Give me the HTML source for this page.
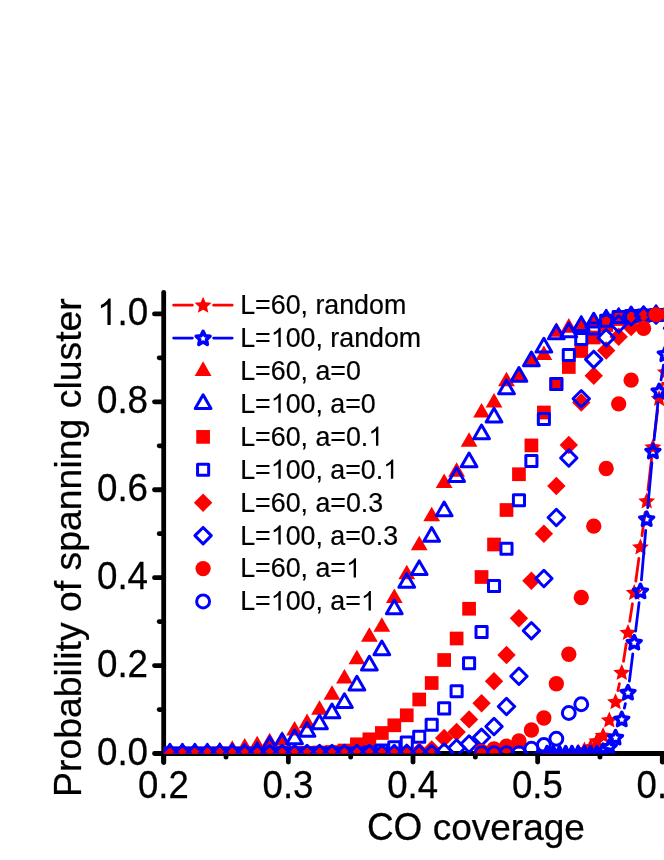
<!DOCTYPE html>
<html><head><meta charset="utf-8"><title>Chart</title>
<style>html,body{margin:0;padding:0;background:#fff}svg{display:block;will-change:transform;font-family:"Liberation Sans",sans-serif}</style>
</head><body>
<svg width="664" height="860" viewBox="0 0 664 860">
<defs>
<path id="tf" d="M0 -9.7 L8.4 4.85 L-8.4 4.85Z" fill="#ff0000"/>
<path id="to" d="M0 -9.1 L7.88 4.55 L-7.88 4.55Z" fill="none" stroke="#0000ff" stroke-width="3.0" stroke-linejoin="round"/>
<rect id="sf" x="-6.85" y="-6.85" width="13.7" height="13.7" fill="#ff0000"/>
<rect id="so" x="-5.55" y="-5.55" width="11.1" height="11.1" fill="none" stroke="#0000ff" stroke-width="3.0" stroke-linejoin="round"/>
<path id="df" d="M0 -9.2 L9.2 0 L0 9.2 L-9.2 0Z" fill="#ff0000"/>
<path id="do" d="M0 -8.2 L8.2 0 L0 8.2 L-8.2 0Z" fill="none" stroke="#0000ff" stroke-width="3.0" stroke-linejoin="round"/>
<circle id="cf" r="7.65" fill="#ff0000"/>
<circle id="co" r="6.45" fill="none" stroke="#0000ff" stroke-width="3.0"/>
<path id="rf" d="M0 -8.5 L2.44 -2.96 L8.46 -2.35 L3.95 1.68 L5.23 7.6 L0 4.55 L-5.23 7.6 L-3.95 1.68 L-8.46 -2.35 L-2.44 -2.96Z" fill="#ff0000"/>
<path id="ro" d="M0 -6.9 L2.06 -2.43 L6.94 -1.86 L3.33 1.48 L4.29 6.31 L0 3.9 L-4.29 6.31 L-3.33 1.48 L-6.94 -1.86 L-2.06 -2.43Z" fill="none" stroke="#0000ff" stroke-width="3.5" stroke-linejoin="round"/>
<clipPath id="cp"><rect x="163.7" y="0" width="600" height="753.5"/></clipPath></defs>
<rect width="664" height="860" fill="#fff"/>
<g stroke="#000" stroke-width="4.8" stroke-linecap="round" fill="none"><path d="M163.7 292.3V762.5" /><path d="M163.7 753.5H680" /><path d="M163.7 753.5H154.5"/><path d="M163.7 709.54H159.2"/><path d="M163.7 665.58H154.5"/><path d="M163.7 621.62H159.2"/><path d="M163.7 577.66H154.5"/><path d="M163.7 533.7H159.2"/><path d="M163.7 489.74H154.5"/><path d="M163.7 445.78H159.2"/><path d="M163.7 401.82H154.5"/><path d="M163.7 357.86H159.2"/><path d="M163.7 313.9H154.5"/><path d="M163.7 753.5V762"/><path d="M226.03 753.5V757.2"/><path d="M288.35 753.5V762"/><path d="M350.68 753.5V757.2"/><path d="M413 753.5V762"/><path d="M475.33 753.5V757.2"/><path d="M537.65 753.5V762"/><path d="M599.98 753.5V757.2"/><path d="M662.3 753.5V762"/><path d="M724.63 753.5V757.2"/></g>
<g font-size="36.8" style="font-kerning:none" stroke="#000" stroke-width="0.25"><text x="96.94" y="0" transform="translate(0 764.5) scale(1 1.045)">0.0</text></g><g font-size="36.8" style="font-kerning:none" stroke="#000" stroke-width="0.25"><text x="96.94" y="0" transform="translate(0 676.58) scale(1 1.045)">0.2</text></g><g font-size="36.8" style="font-kerning:none" stroke="#000" stroke-width="0.25"><text x="96.94" y="0" transform="translate(0 588.66) scale(1 1.045)">0.4</text></g><g font-size="36.8" style="font-kerning:none" stroke="#000" stroke-width="0.25"><text x="96.94" y="0" transform="translate(0 500.74) scale(1 1.045)">0.6</text></g><g font-size="36.8" style="font-kerning:none" stroke="#000" stroke-width="0.25"><text x="96.94" y="0" transform="translate(0 412.82) scale(1 1.045)">0.8</text></g><g font-size="36.8" style="font-kerning:none" stroke="#000" stroke-width="0.25"><path d="M763 0H583V1147Q518 1085 412.5 1023T223 930V1104Q374 1175 487 1276T647 1472H763Z" transform="translate(96.94 324.9) scale(0.01797 -0.01797)"/><text x="117.41" y="0" transform="translate(0 324.9) scale(1 1.045)">.0</text></g><g font-size="36.6" style="font-kerning:none" stroke="#000" stroke-width="0.25"><text x="137.96" y="0" transform="translate(0 797.9) scale(1 1.045)">0.2</text></g><g font-size="36.6" style="font-kerning:none" stroke="#000" stroke-width="0.25"><text x="262.61" y="0" transform="translate(0 797.9) scale(1 1.045)">0.3</text></g><g font-size="36.6" style="font-kerning:none" stroke="#000" stroke-width="0.25"><text x="387.26" y="0" transform="translate(0 797.9) scale(1 1.045)">0.4</text></g><g font-size="36.6" style="font-kerning:none" stroke="#000" stroke-width="0.25"><text x="511.91" y="0" transform="translate(0 797.9) scale(1 1.045)">0.5</text></g><g font-size="36.6" style="font-kerning:none" stroke="#000" stroke-width="0.25"><text x="636.56" y="0" transform="translate(0 797.9) scale(1 1.045)">0.6</text></g>
<g stroke="#000" stroke-width="0.25" style="font-kerning:none"><text x="366.9" y="0" font-size="37" transform="translate(0 839.8) scale(1 1.04)">CO</text><text x="432.68" y="839.8" font-size="37">coverage</text><g transform="translate(81 797) rotate(-90)" font-size="37.4"><text x="0" y="0" transform="scale(1 1.04)">P</text><text x="24.95" y="0">robability of spanning cluster</text></g></g>
<g clip-path="url(#cp)">
<path d="M617.9 690.6L619.39 683.65M623.51 661.24L626.24 643.76M629.74 621.24L632.47 603.76M635.77 581.21L638.9 558.29M641.98 535.7L645.15 512.3M647.99 489.68L651.6 458.32M654.36 435.69L657.69 409.81M661.75 387.4L662.76 383.1" stroke="#ff0000" stroke-width="2.8" fill="none" stroke-linecap="round"/>
<use href="#rf" x="547" y="753.5"/><use href="#rf" x="553.23" y="753.5"/><use href="#rf" x="559.46" y="753.5"/><use href="#rf" x="565.69" y="753.5"/><use href="#rf" x="571.92" y="753.5"/><use href="#rf" x="578.15" y="752"/><use href="#rf" x="584.38" y="750"/><use href="#rf" x="590.61" y="747"/><use href="#rf" x="596.84" y="741"/><use href="#rf" x="603.07" y="735.5"/><use href="#rf" x="609.3" y="720"/><use href="#rf" x="615.53" y="701.75"/><use href="#rf" x="621.76" y="672.5"/><use href="#rf" x="627.99" y="632.5"/><use href="#rf" x="634.22" y="592.5"/><use href="#rf" x="640.45" y="547"/><use href="#rf" x="646.68" y="501"/><use href="#rf" x="652.91" y="447"/><use href="#rf" x="659.14" y="398.5"/><use href="#rf" x="665.37" y="372"/><use href="#rf" x="671.6" y="350"/>
<path d="M624.35 708.15L625.4 703.6M629.4 681.19L632.81 653.81M635.6 631.18L639.07 602.57M641.43 579.89L645.7 530.36M647.72 507.65L651.87 462.65M654.09 439.96L657.96 402.54M661.02 379.96L663.49 365.24M668.23 342.97L668.74 341.03" stroke="#0000ff" stroke-width="2.8" fill="none" stroke-linecap="round"/>
<use href="#ro" x="547" y="753.5"/><use href="#ro" x="553.23" y="753.5"/><use href="#ro" x="559.46" y="753.5"/><use href="#ro" x="565.69" y="753.5"/><use href="#ro" x="571.92" y="753.5"/><use href="#ro" x="578.15" y="753.5"/><use href="#ro" x="584.38" y="753.5"/><use href="#ro" x="590.61" y="753.5"/><use href="#ro" x="596.84" y="753.5"/><use href="#ro" x="603.07" y="751"/><use href="#ro" x="609.3" y="747"/><use href="#ro" x="615.53" y="737.5"/><use href="#ro" x="621.76" y="719.25"/><use href="#ro" x="627.99" y="692.5"/><use href="#ro" x="634.22" y="642.5"/><use href="#ro" x="640.45" y="591.25"/><use href="#ro" x="646.68" y="519"/><use href="#ro" x="652.91" y="451.3"/><use href="#ro" x="659.14" y="391.2"/><use href="#ro" x="665.37" y="354"/><use href="#ro" x="671.6" y="330"/>
<use href="#tf" x="169.93" y="753.5"/><use href="#tf" x="182.4" y="753.5"/><use href="#tf" x="194.86" y="753.3"/><use href="#tf" x="207.32" y="753"/><use href="#tf" x="219.79" y="751.5"/><use href="#tf" x="232.25" y="750"/><use href="#tf" x="244.72" y="747.6"/><use href="#tf" x="257.19" y="745.4"/><use href="#tf" x="269.65" y="742.4"/><use href="#tf" x="282.12" y="740.65"/><use href="#tf" x="294.58" y="730.7"/><use href="#tf" x="307.05" y="723.3"/><use href="#tf" x="319.51" y="709.9"/><use href="#tf" x="331.98" y="694.9"/><use href="#tf" x="344.44" y="678.65"/><use href="#tf" x="356.9" y="659.4"/><use href="#tf" x="369.37" y="636.9"/><use href="#tf" x="381.84" y="626.9"/><use href="#tf" x="394.3" y="598.15"/><use href="#tf" x="406.76" y="574.4"/><use href="#tf" x="419.23" y="545.4"/><use href="#tf" x="431.69" y="516.4"/><use href="#tf" x="444.16" y="483.15"/><use href="#tf" x="456.62" y="471.9"/><use href="#tf" x="469.09" y="441.9"/><use href="#tf" x="481.56" y="412.65"/><use href="#tf" x="494.02" y="402.65"/><use href="#tf" x="506.49" y="381.4"/><use href="#tf" x="518.95" y="375.9"/><use href="#tf" x="531.41" y="360.4"/><use href="#tf" x="543.88" y="355.15"/><use href="#tf" x="556.35" y="331.9"/><use href="#tf" x="568.81" y="327.8"/><use href="#tf" x="581.27" y="324.4"/><use href="#tf" x="593.74" y="321.5"/><use href="#tf" x="606.2" y="319.3"/><use href="#tf" x="618.67" y="317.8"/><use href="#tf" x="631.13" y="316"/><use href="#tf" x="643.6" y="315.5"/><use href="#tf" x="656.07" y="315"/><use href="#tf" x="668.53" y="314.8"/>
<use href="#to" x="169.93" y="753.5"/><use href="#to" x="182.4" y="753.5"/><use href="#to" x="194.86" y="753.5"/><use href="#to" x="207.32" y="753.5"/><use href="#to" x="219.79" y="753.5"/><use href="#to" x="232.25" y="753.5"/><use href="#to" x="244.72" y="753.5"/><use href="#to" x="257.19" y="752"/><use href="#to" x="269.65" y="746"/><use href="#to" x="282.12" y="742.8"/><use href="#to" x="294.58" y="739.2"/><use href="#to" x="307.05" y="731.7"/><use href="#to" x="319.51" y="724.2"/><use href="#to" x="331.98" y="713.2"/><use href="#to" x="344.44" y="702.9"/><use href="#to" x="356.9" y="685.45"/><use href="#to" x="369.37" y="665.45"/><use href="#to" x="381.84" y="650.2"/><use href="#to" x="394.3" y="609.2"/><use href="#to" x="406.76" y="582.7"/><use href="#to" x="419.23" y="570"/><use href="#to" x="431.69" y="536.7"/><use href="#to" x="444.16" y="511.2"/><use href="#to" x="456.62" y="476.9"/><use href="#to" x="469.09" y="462.2"/><use href="#to" x="481.56" y="434.2"/><use href="#to" x="494.02" y="417.45"/><use href="#to" x="506.49" y="389.2"/><use href="#to" x="518.95" y="376.7"/><use href="#to" x="531.41" y="361.2"/><use href="#to" x="543.88" y="347.45"/><use href="#to" x="556.35" y="334.2"/><use href="#to" x="568.81" y="332.3"/><use href="#to" x="581.27" y="326"/><use href="#to" x="593.74" y="322.4"/><use href="#to" x="606.2" y="319.5"/><use href="#to" x="618.67" y="318"/><use href="#to" x="631.13" y="316.2"/><use href="#to" x="643.6" y="315.8"/><use href="#to" x="656.07" y="315"/><use href="#to" x="668.53" y="314.8"/>
<use href="#sf" x="169.93" y="753.5"/><use href="#sf" x="182.4" y="753.5"/><use href="#sf" x="194.86" y="753.5"/><use href="#sf" x="207.32" y="753.5"/><use href="#sf" x="219.79" y="753.5"/><use href="#sf" x="232.25" y="753.5"/><use href="#sf" x="244.72" y="753.5"/><use href="#sf" x="257.19" y="753.5"/><use href="#sf" x="269.65" y="753.5"/><use href="#sf" x="282.12" y="753.2"/><use href="#sf" x="294.58" y="753"/><use href="#sf" x="307.05" y="752.8"/><use href="#sf" x="319.51" y="752.5"/><use href="#sf" x="331.98" y="752"/><use href="#sf" x="344.44" y="750.5"/><use href="#sf" x="356.9" y="744.3"/><use href="#sf" x="369.37" y="739.3"/><use href="#sf" x="381.84" y="733"/><use href="#sf" x="394.3" y="725.3"/><use href="#sf" x="406.76" y="715.3"/><use href="#sf" x="419.23" y="699.5"/><use href="#sf" x="431.69" y="683"/><use href="#sf" x="444.16" y="660"/><use href="#sf" x="456.62" y="638.5"/><use href="#sf" x="469.09" y="608.75"/><use href="#sf" x="481.56" y="577"/><use href="#sf" x="494.02" y="544.5"/><use href="#sf" x="506.49" y="510"/><use href="#sf" x="518.95" y="474.25"/><use href="#sf" x="531.41" y="445.4"/><use href="#sf" x="543.88" y="412.5"/><use href="#sf" x="556.35" y="384"/><use href="#sf" x="568.81" y="367"/><use href="#sf" x="581.27" y="351"/><use href="#sf" x="593.74" y="337.5"/><use href="#sf" x="606.2" y="325"/><use href="#sf" x="618.67" y="319"/><use href="#sf" x="631.13" y="316.8"/><use href="#sf" x="643.6" y="315.8"/><use href="#sf" x="656.07" y="315.2"/><use href="#sf" x="668.53" y="314.8"/>
<use href="#so" x="169.93" y="753.5"/><use href="#so" x="182.4" y="753.5"/><use href="#so" x="194.86" y="753.5"/><use href="#so" x="207.32" y="753.5"/><use href="#so" x="219.79" y="753.5"/><use href="#so" x="232.25" y="753.5"/><use href="#so" x="244.72" y="753.5"/><use href="#so" x="257.19" y="753.5"/><use href="#so" x="269.65" y="753.5"/><use href="#so" x="282.12" y="753.5"/><use href="#so" x="294.58" y="753.5"/><use href="#so" x="307.05" y="753.5"/><use href="#so" x="319.51" y="753.5"/><use href="#so" x="331.98" y="753.5"/><use href="#so" x="344.44" y="753.5"/><use href="#so" x="356.9" y="753.5"/><use href="#so" x="369.37" y="752.5"/><use href="#so" x="381.84" y="750.5"/><use href="#so" x="394.3" y="747.3"/><use href="#so" x="406.76" y="742.6"/><use href="#so" x="419.23" y="736.7"/><use href="#so" x="431.69" y="724.7"/><use href="#so" x="444.16" y="708.4"/><use href="#so" x="456.62" y="691.25"/><use href="#so" x="469.09" y="663.25"/><use href="#so" x="481.56" y="632"/><use href="#so" x="494.02" y="586"/><use href="#so" x="506.49" y="548.75"/><use href="#so" x="518.95" y="500.25"/><use href="#so" x="531.41" y="461"/><use href="#so" x="543.88" y="419"/><use href="#so" x="556.35" y="384"/><use href="#so" x="568.81" y="355"/><use href="#so" x="581.27" y="339"/><use href="#so" x="593.74" y="328.5"/><use href="#so" x="606.2" y="320.8"/><use href="#so" x="618.67" y="317"/><use href="#so" x="631.13" y="316"/><use href="#so" x="643.6" y="315.5"/><use href="#so" x="656.07" y="315"/><use href="#so" x="668.53" y="314.8"/>
<use href="#df" x="169.93" y="753.5"/><use href="#df" x="182.4" y="753.5"/><use href="#df" x="194.86" y="753.5"/><use href="#df" x="207.32" y="753.5"/><use href="#df" x="219.79" y="753.5"/><use href="#df" x="232.25" y="753.5"/><use href="#df" x="244.72" y="753.5"/><use href="#df" x="257.19" y="753.5"/><use href="#df" x="269.65" y="753.5"/><use href="#df" x="282.12" y="753.5"/><use href="#df" x="294.58" y="753.5"/><use href="#df" x="307.05" y="753.5"/><use href="#df" x="319.51" y="753.5"/><use href="#df" x="331.98" y="753.5"/><use href="#df" x="344.44" y="753.5"/><use href="#df" x="356.9" y="753.5"/><use href="#df" x="369.37" y="753.5"/><use href="#df" x="381.84" y="753.5"/><use href="#df" x="394.3" y="753.5"/><use href="#df" x="406.76" y="752.5"/><use href="#df" x="419.23" y="751.5"/><use href="#df" x="431.69" y="749.5"/><use href="#df" x="444.16" y="738"/><use href="#df" x="456.62" y="732"/><use href="#df" x="469.09" y="719.4"/><use href="#df" x="481.56" y="703.2"/><use href="#df" x="494.02" y="681.25"/><use href="#df" x="506.49" y="655"/><use href="#df" x="518.95" y="618.25"/><use href="#df" x="531.41" y="580.75"/><use href="#df" x="543.88" y="533.75"/><use href="#df" x="556.35" y="486"/><use href="#df" x="568.81" y="445"/><use href="#df" x="581.27" y="402.5"/><use href="#df" x="593.74" y="375.75"/><use href="#df" x="606.2" y="350.5"/><use href="#df" x="618.67" y="336.7"/><use href="#df" x="631.13" y="327"/><use href="#df" x="643.6" y="317"/><use href="#df" x="656.07" y="315"/><use href="#df" x="668.53" y="314.5"/>
<use href="#do" x="169.93" y="753.5"/><use href="#do" x="182.4" y="753.5"/><use href="#do" x="194.86" y="753.5"/><use href="#do" x="207.32" y="753.5"/><use href="#do" x="219.79" y="753.5"/><use href="#do" x="232.25" y="753.5"/><use href="#do" x="244.72" y="753.5"/><use href="#do" x="257.19" y="753.5"/><use href="#do" x="269.65" y="753.5"/><use href="#do" x="282.12" y="753.5"/><use href="#do" x="294.58" y="753.5"/><use href="#do" x="307.05" y="753.5"/><use href="#do" x="319.51" y="753.5"/><use href="#do" x="331.98" y="753.5"/><use href="#do" x="344.44" y="753.5"/><use href="#do" x="356.9" y="753.5"/><use href="#do" x="369.37" y="753.5"/><use href="#do" x="381.84" y="753.5"/><use href="#do" x="394.3" y="753.5"/><use href="#do" x="406.76" y="753.5"/><use href="#do" x="419.23" y="753.5"/><use href="#do" x="431.69" y="753.5"/><use href="#do" x="444.16" y="752"/><use href="#do" x="456.62" y="748"/><use href="#do" x="469.09" y="744"/><use href="#do" x="481.56" y="737.3"/><use href="#do" x="494.02" y="726.5"/><use href="#do" x="506.49" y="706.5"/><use href="#do" x="518.95" y="676.25"/><use href="#do" x="531.41" y="630.7"/><use href="#do" x="543.88" y="578.5"/><use href="#do" x="556.35" y="517.5"/><use href="#do" x="568.81" y="458"/><use href="#do" x="581.27" y="398.75"/><use href="#do" x="593.74" y="359.4"/><use href="#do" x="606.2" y="337.7"/><use href="#do" x="618.67" y="324"/><use href="#do" x="631.13" y="316.8"/><use href="#do" x="643.6" y="315.5"/><use href="#do" x="656.07" y="315"/><use href="#do" x="668.53" y="314.8"/>
<use href="#cf" x="481.56" y="751.3"/><use href="#cf" x="494.02" y="749"/><use href="#cf" x="506.49" y="746.2"/><use href="#cf" x="518.95" y="741"/><use href="#cf" x="531.41" y="730"/><use href="#cf" x="543.88" y="718"/><use href="#cf" x="556.35" y="683.75"/><use href="#cf" x="568.81" y="654.25"/><use href="#cf" x="581.27" y="597.5"/><use href="#cf" x="593.74" y="526.2"/><use href="#cf" x="606.2" y="468.5"/><use href="#cf" x="618.67" y="403.8"/><use href="#cf" x="631.13" y="380.2"/><use href="#cf" x="643.6" y="328.4"/><use href="#cf" x="656.07" y="314.7"/><use href="#cf" x="668.53" y="314"/>
<use href="#co" x="481.56" y="753.3"/><use href="#co" x="494.02" y="753.3"/><use href="#co" x="506.49" y="753.3"/><use href="#co" x="518.95" y="753.3"/><use href="#co" x="531.41" y="748.75"/><use href="#co" x="543.88" y="745"/><use href="#co" x="556.35" y="738.75"/><use href="#co" x="568.81" y="713"/><use href="#co" x="581.27" y="704.25"/>
</g>
<path d="M173.6 305.2H192.4M213.6 305.2H232.2" stroke="#ff0000" stroke-width="2.7" stroke-linecap="round" fill="none"/><use href="#rf" x="203.1" y="305.2"/><g font-size="26.8" style="font-kerning:none" stroke="#000" stroke-width="0.2"><text x="240.2" y="0" transform="translate(0 314.1) scale(1 1.03)">L=60, random</text></g><path d="M173.6 338.12H192.4M213.6 338.12H232.2" stroke="#0000ff" stroke-width="2.7" stroke-linecap="round" fill="none"/><use href="#ro" x="203.1" y="338.12"/><g font-size="26.8" style="font-kerning:none" stroke="#000" stroke-width="0.2"><text x="240.2" y="0" transform="translate(0 347.02) scale(1 1.03)">L=</text><path d="M763 0H583V1147Q518 1085 412.5 1023T223 930V1104Q374 1175 487 1276T647 1472H763Z" transform="translate(270.76 347.02) scale(0.01309 -0.01309)"/><text x="285.66" y="0" transform="translate(0 347.02) scale(1 1.03)">00, random</text></g><use href="#tf" x="203.1" y="371.04"/><g font-size="26.8" style="font-kerning:none" stroke="#000" stroke-width="0.2"><text x="240.2" y="0" transform="translate(0 379.94) scale(1 1.03)">L=60, a=0</text></g><use href="#to" x="203.1" y="403.96"/><g font-size="26.8" style="font-kerning:none" stroke="#000" stroke-width="0.2"><text x="240.2" y="0" transform="translate(0 412.86) scale(1 1.03)">L=</text><path d="M763 0H583V1147Q518 1085 412.5 1023T223 930V1104Q374 1175 487 1276T647 1472H763Z" transform="translate(270.76 412.86) scale(0.01309 -0.01309)"/><text x="285.66" y="0" transform="translate(0 412.86) scale(1 1.03)">00, a=0</text></g><use href="#sf" x="203.1" y="436.88"/><g font-size="26.8" style="font-kerning:none" stroke="#000" stroke-width="0.2"><text x="240.2" y="0" transform="translate(0 445.78) scale(1 1.03)">L=60, a=0.</text><path d="M763 0H583V1147Q518 1085 412.5 1023T223 930V1104Q374 1175 487 1276T647 1472H763Z" transform="translate(368.36 445.78) scale(0.01309 -0.01309)"/></g><use href="#so" x="203.1" y="469.8"/><g font-size="26.8" style="font-kerning:none" stroke="#000" stroke-width="0.2"><text x="240.2" y="0" transform="translate(0 478.7) scale(1 1.03)">L=</text><path d="M763 0H583V1147Q518 1085 412.5 1023T223 930V1104Q374 1175 487 1276T647 1472H763Z" transform="translate(270.76 478.7) scale(0.01309 -0.01309)"/><text x="285.66" y="0" transform="translate(0 478.7) scale(1 1.03)">00, a=0.</text><path d="M763 0H583V1147Q518 1085 412.5 1023T223 930V1104Q374 1175 487 1276T647 1472H763Z" transform="translate(383.27 478.7) scale(0.01309 -0.01309)"/></g><use href="#df" x="203.1" y="502.72"/><g font-size="26.8" style="font-kerning:none" stroke="#000" stroke-width="0.2"><text x="240.2" y="0" transform="translate(0 511.62) scale(1 1.03)">L=60, a=0.3</text></g><use href="#do" x="203.1" y="535.64"/><g font-size="26.8" style="font-kerning:none" stroke="#000" stroke-width="0.2"><text x="240.2" y="0" transform="translate(0 544.54) scale(1 1.03)">L=</text><path d="M763 0H583V1147Q518 1085 412.5 1023T223 930V1104Q374 1175 487 1276T647 1472H763Z" transform="translate(270.76 544.54) scale(0.01309 -0.01309)"/><text x="285.66" y="0" transform="translate(0 544.54) scale(1 1.03)">00, a=0.3</text></g><use href="#cf" x="203.1" y="568.56"/><g font-size="26.8" style="font-kerning:none" stroke="#000" stroke-width="0.2"><text x="240.2" y="0" transform="translate(0 577.46) scale(1 1.03)">L=60, a=</text><path d="M763 0H583V1147Q518 1085 412.5 1023T223 930V1104Q374 1175 487 1276T647 1472H763Z" transform="translate(346.01 577.46) scale(0.01309 -0.01309)"/></g><use href="#co" x="203.1" y="601.48"/><g font-size="26.8" style="font-kerning:none" stroke="#000" stroke-width="0.2"><text x="240.2" y="0" transform="translate(0 610.38) scale(1 1.03)">L=</text><path d="M763 0H583V1147Q518 1085 412.5 1023T223 930V1104Q374 1175 487 1276T647 1472H763Z" transform="translate(270.76 610.38) scale(0.01309 -0.01309)"/><text x="285.66" y="0" transform="translate(0 610.38) scale(1 1.03)">00, a=</text><path d="M763 0H583V1147Q518 1085 412.5 1023T223 930V1104Q374 1175 487 1276T647 1472H763Z" transform="translate(360.92 610.38) scale(0.01309 -0.01309)"/></g>
</svg>
</body></html>
